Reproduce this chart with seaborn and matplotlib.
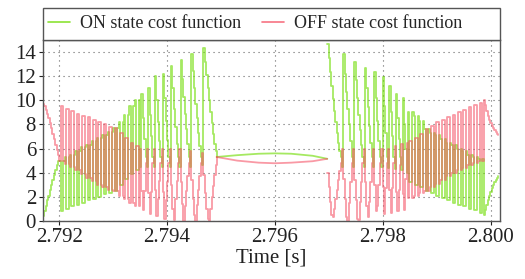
import numpy as np
import matplotlib
matplotlib.use('Agg')
import matplotlib.pyplot as plt
from matplotlib.lines import Line2D
from matplotlib.patches import Rectangle
import seaborn as sns

sns.set_theme(style='white')
plt.rcParams['font.family'] = ['Liberation Serif', 'DejaVu Serif']

# sampling of the controller
dt = 25e-6
t_left = 2.79170
t_right = 2.79697

# lead-in at the left edge
on_lead = [0.4, 0.8, 1.2, 1.7, 2.1, 2.6, 3.0, 3.4, 3.8, 4.2, 4.6, 5.0]
off_lead = [9.7, 9.5, 9.2, 8.9, 8.5, 8.1, 7.7, 7.2, 6.8, 6.3, 5.9, 5.5]

# fast chattering part (left), envelope of each switching period
on_hi_l = [5.0, 5.3, 5.5, 5.8, 6.1, 6.3, 6.6, 6.9, 7.1, 7.4, 7.7, 8.2, 8.8, 9.5, 10.0]
on_lo_l = [0.8, 1.0, 1.2, 1.3, 1.5, 1.7, 1.8, 2.0, 2.2, 2.3, 2.5, 3.0, 3.5, 3.9, 4.2]
off_hi_l = [9.5, 9.3, 9.1, 8.9, 8.7, 8.6, 8.4, 8.2, 8.0, 7.8, 7.7, 7.3, 6.9, 6.5, 6.2]
off_lo_l = [5.0, 4.7, 4.5, 4.2, 3.9, 3.6, 3.3, 3.0, 2.8, 2.6, 2.5, 2.1, 1.8, 1.5, 1.2]

# slower periods before the zero-switching interval
on_stairs_l = [4.5, 10.5, 8.5, 6.8, 5.3,
               4.5, 11.0, 8.8, 7.0, 5.3,
               4.5, 12.0, 10.0, 8.2, 6.6, 5.3,
               4.5, 12.2, 10.2, 8.3, 6.7, 5.3,
               4.5, 12.8, 11.0, 9.3, 7.8, 6.4, 5.3,
               4.5, 13.3, 11.8, 10.3, 8.9, 7.6, 6.4, 5.3,
               4.5, 13.8, 12.4, 11.0, 9.7, 8.5, 7.3, 6.2, 5.3,
               4.6, 14.3, 13.2, 12.1, 11.0, 10.0, 9.0, 8.1, 7.2, 6.4, 5.8, 5.3]
off_stairs_l = [6.0, 2.5, 0.9, 2.5, 4.8,
                6.0, 2.3, 0.6, 2.4, 4.8,
                6.0, 2.6, 0.4, 1.8, 3.3, 4.8,
                6.0, 2.4, 0.2, 1.7, 3.2, 4.8,
                6.0, 3.0, 1.0, 0.1, 1.8, 3.3, 4.8,
                6.0, 3.2, 1.4, 0.0, 1.2, 2.5, 3.7, 4.8,
                5.8, 3.4, 1.8, 0.5, 0.0, 1.3, 2.6, 3.7, 4.8,
                5.6, 3.8, 2.3, 1.0, 0.2, 0.0, 1.0, 2.0, 2.9, 3.8, 4.6, 5.3]

# smooth interval without switching
t_gap = [2.79492, 2.7953, 2.7957, 2.7960, 2.7963, 2.7967, 2.79697]
on_gap = [5.3, 5.45, 5.57, 5.6, 5.57, 5.4, 5.15]
off_gap = [5.3, 5.0, 4.83, 4.78, 4.83, 4.95, 5.15]

# slower periods after the interval
on_stairs_r = [14.7, 13.5, 12.3, 11.2, 10.1, 9.1, 8.2, 7.3, 6.5, 5.8, 5.3, 4.5,
               13.8, 12.2, 10.7, 9.3, 8.0, 6.6, 5.3, 4.5,
               13.2, 11.7, 10.2, 8.8, 7.5, 6.3, 5.3, 4.5,
               12.7, 11.0, 9.4, 7.9, 6.5, 5.3, 4.5,
               12.3, 10.2, 8.3, 6.6, 5.3, 4.5,
               11.9, 9.5, 7.3, 5.3, 4.4,
               11.2, 9.0, 7.0, 5.3, 4.3,
               10.5, 8.5, 6.8, 5.3, 4.2,
               10.2, 8.0, 6.0, 4.0]
off_stairs_r = [4.0, 2.8, 1.6, 0.5, 0.3, 1.0, 1.8, 2.6, 3.4, 4.1, 4.8, 6.0,
                3.5, 1.8, 0.3, 0.0, 1.5, 3.2, 4.8, 6.0,
                3.4, 1.7, 0.2, 0.1, 1.6, 3.2, 4.8, 6.0,
                3.2, 1.2, 0.3, 1.6, 3.2, 4.8, 6.0,
                3.0, 0.8, 1.2, 3.0, 4.8, 6.0,
                2.8, 0.6, 2.7, 4.8, 6.0,
                2.6, 0.7, 2.7, 4.8, 6.2,
                2.4, 0.8, 2.6, 4.6, 6.4,
                2.2, 0.9, 3.5, 6.5]

# fast chattering part (right)
on_hi_r = [9.0, 8.7, 8.3, 7.6, 7.3, 7.1, 6.8, 6.5, 6.3, 6.0, 5.8, 5.5, 5.3, 5.1]
on_lo_r = [3.2, 3.0, 2.8, 2.5, 2.3, 2.1, 1.9, 1.7, 1.5, 1.3, 1.2, 1.0, 0.9, 0.7]
off_hi_r = [6.6, 6.9, 7.2, 7.6, 7.9, 8.2, 8.4, 8.6, 8.8, 9.0, 9.2, 9.4, 9.6, 9.8]
off_lo_r = [1.9, 2.1, 2.3, 2.5, 2.8, 3.1, 3.4, 3.7, 4.0, 4.2, 4.4, 4.6, 4.8, 5.0]

# tail at the right edge
on_tail = [0.5, 0.9, 1.3, 1.7, 2.1, 2.4, 2.7, 3.0, 3.2, 3.4, 3.6, 3.7]
off_tail = [10.0, 9.6, 9.1, 8.7, 8.4, 8.1, 7.9, 7.7, 7.5, 7.4, 7.2, 7.1]

x_ticks = [2.792, 2.794, 2.796, 2.798, 2.800]
y_ticks = [0, 2, 4, 6, 8, 10, 12, 14]
labels = ['ON state cost function', 'OFF state cost function']


def chatter(first, second):
    out = []
    for a, b in zip(first, second):
        out += [a, b, b, a]
    return out


on_left = on_lead + chatter(on_hi_l, on_lo_l) + on_stairs_l
off_left = off_lead + chatter(off_lo_l, off_hi_l) + off_stairs_l
on_right = on_stairs_r + chatter(on_hi_r, on_lo_r) + on_tail
off_right = off_stairs_r + chatter(off_lo_r, off_hi_r) + off_tail

tl = t_left + dt * np.arange(len(on_left))
tr = t_right + dt * np.arange(len(on_right))

green = '#6edc00'
red = '#f55064'

fig = plt.figure(figsize=(5.25, 2.79), dpi=100)
ax = fig.add_axes([0.082, 0.208, 0.870, 0.649])

kw_g = dict(estimator=None, sort=False, lw=1.3, alpha=0.62, ax=ax, legend=False, color=green)
kw_r = dict(estimator=None, sort=False, lw=1.3, alpha=0.58, ax=ax, legend=False, color=red)
sns.lineplot(x=tl, y=on_left, drawstyle='steps-post', **kw_g)
sns.lineplot(x=t_gap, y=on_gap, **kw_g)
sns.lineplot(x=tr, y=on_right, drawstyle='steps-post', **kw_g)
sns.lineplot(x=tl, y=off_left, drawstyle='steps-post', **kw_r)
sns.lineplot(x=t_gap, y=off_gap, **kw_r)
sns.lineplot(x=tr, y=off_right, drawstyle='steps-post', **kw_r)

ax.set_xlim(2.7917, 2.80017)
ax.set_ylim(0, 15)
ax.set_xticks(x_ticks)
ax.set_xticklabels([f'{v:.3f}' for v in x_ticks])
ax.set_yticks(y_ticks)
ax.tick_params(labelsize=15, length=3, width=0.8, pad=2, direction='out',
               bottom=True, left=True, colors='#222222')
ax.set_xlabel('Time [s]', fontsize=15, labelpad=1, color='#222222')
ax.set_ylabel('')
ax.grid(True, linestyle=(0, (1, 3.5)), color='#666666', lw=0.8)
ax.set_axisbelow(True)
for s in ax.spines.values():
    s.set_color('#555555')
    s.set_linewidth(1.0)

# legend box spanning the width of the axes
box_h = 32 / 181
ax.add_patch(Rectangle((0, 1), 1, box_h, transform=ax.transAxes, clip_on=False,
                       facecolor='white', edgecolor='#555555', lw=1.0, zorder=5))
handles = [Line2D([], [], color=green, lw=1.2, alpha=0.8),
           Line2D([], [], color=red, lw=1.2, alpha=0.8)]
leg = ax.legend(handles, labels, loc='center left',
                bbox_to_anchor=(0.011, 1 + box_h / 2), ncol=2, frameon=False,
                borderaxespad=0, borderpad=0, fontsize=13, handlelength=1.2,
                handletextpad=0.55, columnspacing=1.2)
leg.set_zorder(6)

fig.savefig('out.png', dpi=100)
